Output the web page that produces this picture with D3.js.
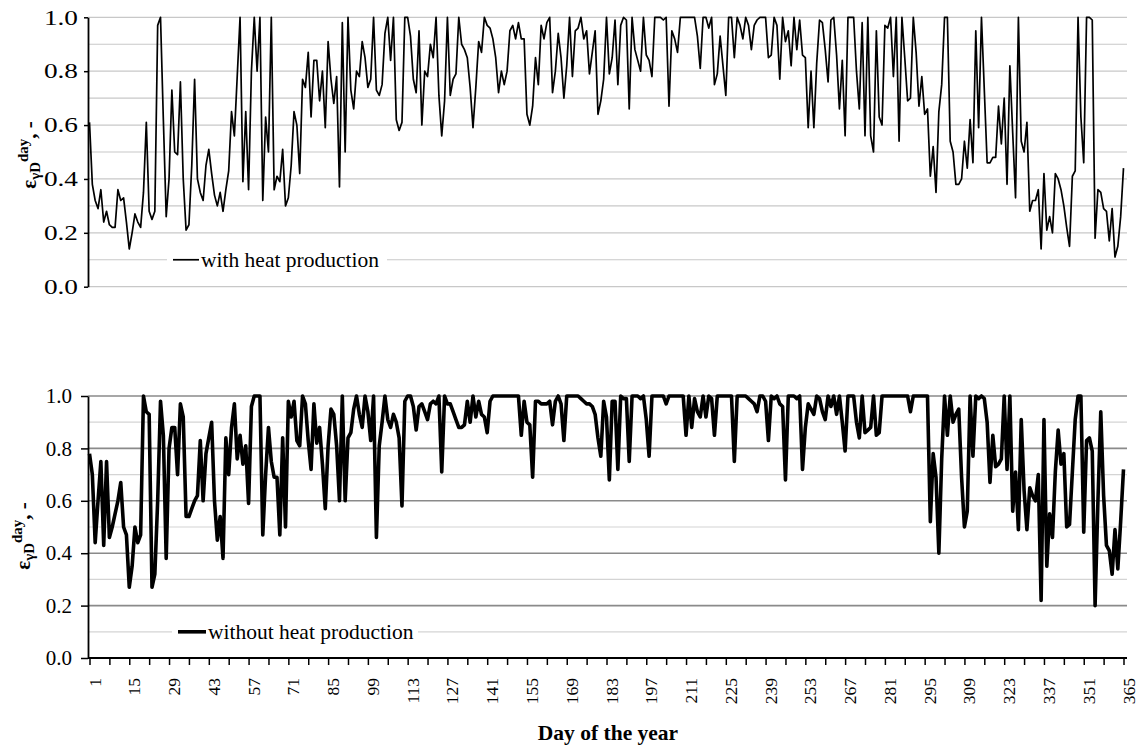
<!DOCTYPE html>
<html>
<head>
<meta charset="utf-8">
<script src="https://cdn.jsdelivr.net/npm/d3@7"></script>
<style>
  html, body { margin: 0; padding: 0; background: #fff; }
  svg { display: block; }
  text { font-family: "Liberation Serif", "Times New Roman", serif; fill: #000; }
</style>
</head>
<body>
<svg id="chart" width="1138" height="746"></svg>
<script>
// Daily exergy-based efficiency, days 1..365
const withHeat = [
  0.61,0.38,0.32,0.29,0.36,0.24,0.28,0.23,0.22,0.22,
  0.36,0.32,0.33,0.24,0.14,0.20,0.27,0.24,0.22,0.35,
  0.61,0.28,0.25,0.28,0.97,1.00,0.62,0.26,0.40,0.73,
  0.50,0.49,0.76,0.40,0.21,0.23,0.45,0.77,0.40,0.35,
  0.32,0.45,0.51,0.42,0.34,0.30,0.35,0.28,0.36,0.43,
  0.65,0.56,0.78,1.00,0.39,0.65,0.36,0.80,1.00,0.80,
  1.00,0.32,0.63,0.50,1.00,0.36,0.41,0.39,0.51,0.30,
  0.33,0.45,0.65,0.60,0.42,0.77,0.74,0.87,0.63,0.84,
  0.84,0.69,0.80,0.59,0.91,0.77,0.68,0.78,0.37,0.98,
  0.50,1.00,0.73,0.66,0.80,0.78,0.91,0.85,0.74,0.77,
  1.00,0.73,0.71,0.75,0.94,1.00,0.84,1.00,0.62,0.58,
  0.61,1.00,1.00,0.93,0.77,0.72,0.95,0.60,0.80,0.78,
  0.90,0.85,1.00,0.71,0.56,0.69,1.00,0.71,0.77,0.79,
  1.00,0.90,0.88,0.85,0.74,0.59,0.74,0.91,0.87,1.00,
  0.97,0.96,0.92,0.85,0.72,0.80,0.75,0.80,0.95,0.97,
  0.92,0.98,0.92,0.92,0.64,0.60,0.67,0.85,0.75,0.97,
  0.92,0.98,1.00,0.72,0.80,0.94,0.85,0.70,0.82,1.00,
  0.78,0.95,0.96,1.00,0.92,0.95,0.79,0.87,0.95,0.64,
  0.69,0.77,1.00,0.79,0.85,0.99,0.75,0.97,1.00,0.99,
  0.66,1.00,0.88,0.84,0.80,1.00,0.86,0.84,0.78,1.00,
  1.00,1.00,0.99,1.00,0.67,0.95,0.92,0.87,1.00,1.00,
  1.00,1.00,1.00,1.00,0.93,0.81,1.00,1.00,0.96,1.00,
  0.75,0.79,0.93,0.82,0.71,1.00,1.00,0.85,1.00,0.97,
  0.92,1.00,0.97,0.88,0.97,0.99,1.00,1.00,1.00,0.85,
  0.86,1.00,0.97,0.77,1.00,0.91,0.95,0.82,1.00,0.88,
  0.99,0.86,0.85,0.59,0.80,0.59,0.83,0.99,0.98,0.88,
  0.76,0.99,1.00,0.86,0.66,0.84,0.56,1.00,1.00,1.00,
  0.80,0.66,0.98,0.56,1.00,0.56,0.50,0.95,0.63,0.60,
  0.97,0.96,1.00,0.78,1.00,0.54,1.00,0.85,0.69,0.70,
  1.00,0.87,0.67,0.78,0.64,0.66,0.41,0.52,0.35,0.65,
  0.75,1.00,1.00,0.54,0.50,0.38,0.38,0.40,0.54,0.44,
  0.62,0.46,0.95,0.59,1.00,0.73,0.46,0.46,0.48,0.48,
  0.67,0.53,0.70,0.38,0.82,0.57,0.33,1.00,0.54,0.50,
  0.61,0.28,0.32,0.32,0.36,0.14,0.42,0.21,0.26,0.20,
  0.42,0.40,0.36,0.30,0.22,0.15,0.41,0.43,1.00,0.63,
  0.46,1.00,1.00,0.99,0.18,0.36,0.35,0.29,0.28,0.17,
  0.29,0.11,0.15,0.26,0.44
];

const withoutHeat = [
  0.78,0.70,0.44,0.60,0.75,0.43,0.75,0.46,0.50,0.55,
  0.60,0.67,0.50,0.47,0.27,0.35,0.50,0.44,0.47,1.00,
  0.94,0.93,0.27,0.32,0.60,0.98,0.85,0.38,0.80,0.88,
  0.88,0.70,0.97,0.92,0.54,0.54,0.57,0.60,0.62,0.83,
  0.60,0.78,0.84,0.90,0.60,0.45,0.54,0.38,0.84,0.70,
  0.88,0.97,0.76,0.85,0.74,0.81,0.59,0.96,1.00,1.00,
  1.00,0.47,0.70,0.88,0.75,0.69,0.69,0.47,0.84,0.50,
  0.98,0.92,0.98,0.83,0.81,1.00,0.97,0.83,0.72,0.97,
  0.82,0.88,0.74,0.57,0.81,0.95,0.93,0.81,0.60,1.00,
  0.60,0.84,0.86,0.95,1.00,0.93,0.88,1.00,0.94,0.83,
  1.00,0.46,0.81,0.90,1.00,0.91,0.88,0.93,0.90,0.84,
  0.58,0.98,1.00,1.00,0.96,0.87,0.96,0.97,0.94,0.91,
  0.97,0.98,0.97,1.00,0.71,1.00,0.97,0.97,0.94,0.91,
  0.88,0.88,0.89,0.98,0.90,1.00,0.92,0.98,0.93,0.92,
  0.86,0.98,1.00,1.00,1.00,1.00,1.00,1.00,1.00,1.00,
  1.00,1.00,0.85,0.98,0.90,0.89,0.69,0.98,0.98,0.97,
  0.97,0.97,0.98,0.89,0.98,1.00,0.97,0.83,1.00,1.00,
  1.00,1.00,1.00,0.99,0.98,0.97,0.97,0.96,0.93,0.84,
  0.77,0.98,0.92,0.68,0.98,0.98,0.72,1.00,0.99,0.99,
  0.75,1.00,1.00,1.00,0.99,1.00,0.91,0.77,1.00,1.00,
  1.00,1.00,1.00,0.97,1.00,1.00,1.00,1.00,1.00,1.00,
  0.85,1.00,0.88,0.99,0.94,0.92,1.00,0.92,1.00,0.99,
  0.85,1.00,1.00,1.00,1.00,1.00,1.00,0.75,1.00,1.00,
  1.00,1.00,0.99,0.98,0.97,0.94,1.00,1.00,0.98,0.83,
  1.00,0.99,1.00,0.97,0.96,0.68,1.00,1.00,1.00,0.99,
  1.00,0.72,0.88,0.97,0.95,0.93,1.00,0.99,0.94,0.91,
  1.00,0.96,1.00,0.93,1.00,0.90,0.79,1.00,1.00,1.00,
  0.90,0.84,1.00,0.86,0.87,0.88,1.00,0.85,0.86,1.00,
  1.00,1.00,1.00,1.00,1.00,1.00,1.00,1.00,1.00,0.94,
  1.00,1.00,1.00,1.00,1.00,1.00,0.52,0.78,0.69,0.40,
  0.76,1.00,0.85,1.00,0.90,0.93,0.95,0.69,0.50,0.56,
  1.00,0.77,1.00,0.99,1.00,0.99,0.90,0.67,0.85,0.73,
  0.74,0.76,1.00,0.72,1.00,0.56,0.71,0.49,0.91,0.64,
  0.49,0.65,0.62,0.60,0.70,0.22,0.91,0.35,0.55,0.46,
  0.71,0.87,0.74,0.78,0.50,0.51,0.71,0.91,1.00,1.00,
  0.48,0.83,0.84,0.79,0.20,0.60,0.94,0.62,0.43,0.41,
  0.32,0.49,0.34,0.52,0.72
];

const yTickValues = [0, 0.2, 0.4, 0.6, 0.8, 1.0];
const yGridValues = [0, 0.1, 0.2, 0.3, 0.4, 0.5, 0.6, 0.7, 0.8, 0.9, 1.0];
const xTickDays = d3.range(1, 366, 7);
const xLabelDays = d3.range(1, 366, 14);
const legendTop = "with heat production";
const legendBottom = "without heat production";
const xTitle = "Day of the year";

const svg = d3.select("#chart");
const plotLeft = 88, plotRight = 1127;
const serif = "Liberation Serif, Times New Roman, serif";

const x = d3.scaleLinear().domain([1, 365]).range([89.5, 1123.5]);

function panel(cfg) {
  const y = d3.scaleLinear().domain([0, 1]).range([cfg.bottom, cfg.top]);
  const g = svg.append("g");

  // horizontal gridlines
  const isMajor = d => cfg.majorColor && Math.round(d * 10) % 2 === 0;
  g.selectAll("line.grid").data(yGridValues).join("line")
    .attr("x1", plotLeft).attr("x2", plotRight)
    .attr("y1", d => y(d)).attr("y2", d => y(d))
    .attr("stroke", d => isMajor(d) ? cfg.majorColor : cfg.minorColor)
    .attr("stroke-width", d => isMajor(d) ? 1.6 : 1.2);

  // legend box (white background over the grid)
  g.append("rect")
    .attr("x", cfg.legendX - 6).attr("y", y(0.1) - 13)
    .attr("width", cfg.legendW).attr("height", 26)
    .attr("fill", "#fff");

  // data line
  const line = d3.line().x((d, i) => x(i + 1)).y(d => y(d));
  g.append("path").datum(cfg.values)
    .attr("d", line)
    .attr("fill", "none")
    .attr("stroke", "#000")
    .attr("stroke-width", cfg.lineWidth)
    .attr("stroke-linejoin", "round");

  // legend
  g.append("line")
    .attr("x1", cfg.legendX).attr("x2", cfg.legendX + cfg.sampleLen)
    .attr("y1", y(0.1)).attr("y2", y(0.1))
    .attr("stroke", "#000").attr("stroke-width", cfg.lineWidth);
  g.append("text")
    .attr("x", cfg.legendX + cfg.sampleLen + 2).attr("y", y(0.1) + 7.5)
    .attr("font-size", 21.5)
    .text(cfg.legend);

  // y axis
  const yAxis = d3.axisLeft(y).tickValues(yTickValues).tickFormat(d3.format(".1f"))
    .tickSize(cfg.tickLen).tickSizeOuter(0);
  const ag = g.append("g").attr("transform", `translate(${plotLeft},0)`).call(yAxis);
  ag.select(".domain").attr("stroke", "#000").attr("stroke-width", 1.8);
  ag.selectAll(".tick line").attr("stroke", "#000").attr("stroke-width", 1.5);
  ag.selectAll(".tick text").attr("font-size", 21)
    .attr("font-family", serif).attr("fill", "#000")
    .attr("x", -cfg.labelGap / cfg.labelStretch)
    .attr("transform", `scale(${cfg.labelStretch},1)`);

  // y axis title: ε_γD^day, -
  const t = g.append("text")
    .attr("transform", `translate(${cfg.titleX},${cfg.titleY}) rotate(-90)`)
    .attr("text-anchor", "middle")
    .attr("font-weight", "bold");
  t.append("tspan").attr("font-size", 21).text("ε");
  t.append("tspan").attr("font-size", 15).attr("dy", 4).text("γD");
  t.append("tspan").attr("font-size", 15).attr("dy", -12).text("day");
  t.append("tspan").attr("font-size", 21).attr("dy", 8).text(", -");

  return y;
}

panel({
  top: 17.3, bottom: 286.7, values: withHeat, lineWidth: 1.7,
  minorColor: "#c8c8c8", majorColor: null,
  legend: legendTop, legendX: 173, sampleLen: 26, legendW: 220,
  tickLen: 4, labelGap: 10, labelStretch: 1.3, titleX: 36, titleY: 155
});

const yB = panel({
  top: 396, bottom: 658, values: withoutHeat, lineWidth: 3.6,
  minorColor: "#d4d4d4", majorColor: "#8a8a8a",
  legend: legendBottom, legendX: 178, sampleLen: 28, legendW: 246,
  tickLen: 7, labelGap: 16, labelStretch: 1, titleX: 30, titleY: 536
});

// x axis of the lower panel
const xAxis = d3.axisBottom(x).tickValues(xTickDays)
  .tickFormat(d => xLabelDays.includes(d) ? d : "")
  .tickSize(7).tickSizeOuter(0);
const xg = svg.append("g").attr("transform", `translate(0,${yB(0)})`).call(xAxis);
xg.select(".domain").attr("d", `M${plotLeft},0H${plotRight}`)
  .attr("stroke", "#000").attr("stroke-width", 1.8);
xg.selectAll(".tick line").attr("stroke", "#000").attr("stroke-width", 1.5);
xg.selectAll(".tick text")
  .attr("font-size", 17.5)
  .attr("font-family", serif)
  .attr("fill", "#000")
  .attr("text-anchor", "end")
  .attr("y", 0).attr("dy", "0.6em")
  .attr("transform", "translate(0,20) rotate(-90)");

svg.append("text")
  .attr("x", 608).attr("y", 740)
  .attr("text-anchor", "middle")
  .attr("font-size", 21.5).attr("font-weight", "bold")
  .text(xTitle);
</script>
</body>
</html>
